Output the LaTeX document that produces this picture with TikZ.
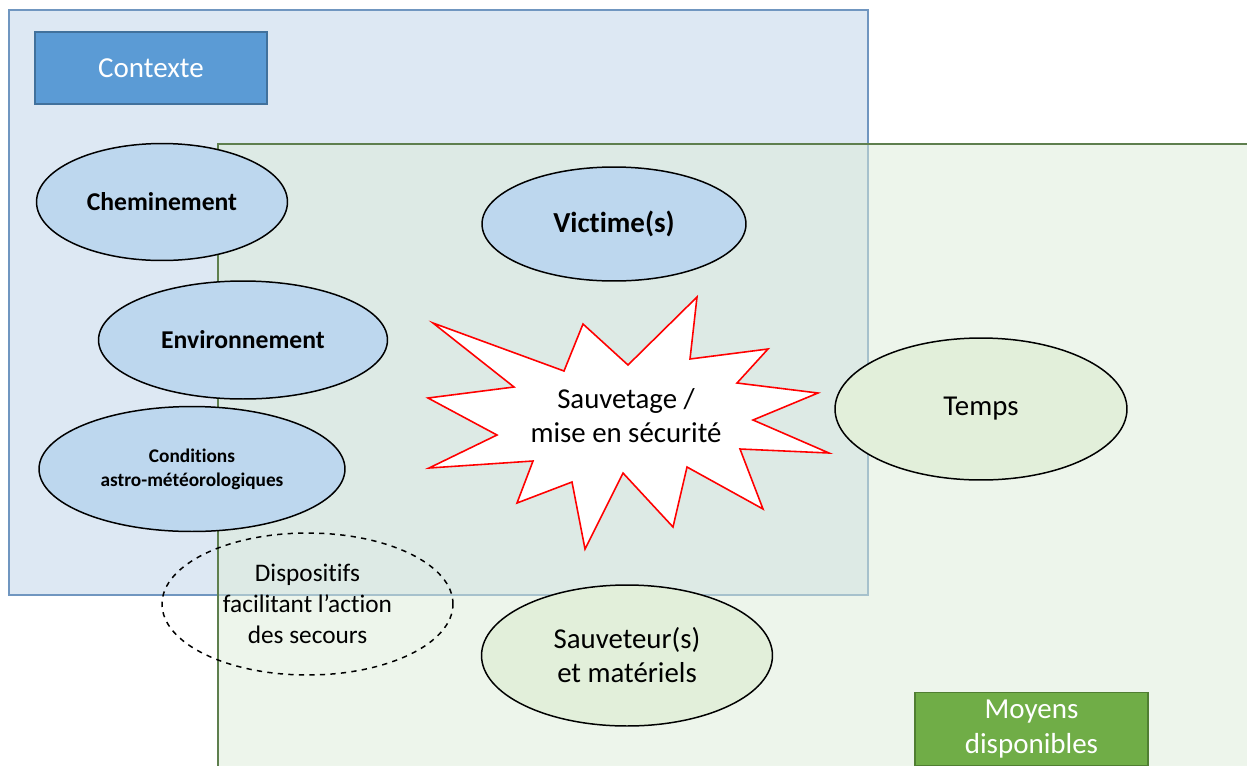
\documentclass[tikz,border=0pt]{standalone}
\usepackage{fontspec}
\setmainfont{Carlito}[Ligatures={NoCommon}]
\usetikzlibrary{shapes.geometric}
\definecolor{ctxfill}{HTML}{DDE8F3}
\definecolor{ctxline}{HTML}{7096C0}
\definecolor{moyfill}{HTML}{DDEDD9}
\definecolor{moyline}{HTML}{5E7F4E}
\definecolor{ovalblue}{HTML}{BDD7EE}
\definecolor{ovalgreen}{HTML}{E2EFDA}
\definecolor{hdrblue}{HTML}{5B9BD5}
\definecolor{hdrblueline}{HTML}{41719C}
\definecolor{hdrgreen}{HTML}{70AD47}
\definecolor{hdrgreenline}{HTML}{507E32}
\begin{document}
\begin{tikzpicture}[x=0.02cm,y=-0.02cm,
  oval/.style={ellipse, draw=black, line width=0.85pt, inner sep=0pt, align=center},
  blueoval/.style={oval, fill=ovalblue},
  greenoval/.style={oval, fill=ovalgreen},
  hdr/.style={rectangle, inner sep=0pt, line width=0.85pt, text=white, align=center},
  bigtxt/.style={font=\fontsize{16.4}{19.3}\selectfont},
  medbold/.style={font=\fontsize{14.6}{17}\selectfont\bfseries},
]
\useasboundingbox (0,0) rectangle (1247,765);
\clip (0,0) rectangle (1247,765);
\fill[white] (0,0) rectangle (1247,765);
% frames
\draw[fill=ctxfill, draw=ctxline, line width=0.85pt] (9,10) rectangle (868,595);
\fill[moyfill, fill opacity=0.5] (218,144) rectangle (1300,800);
\draw[moyline, line width=1.1pt] (1300,144) -- (218,144) -- (218,800);
% headers
\node[hdr, fill=hdrblue, draw=hdrblueline, minimum width=4.64cm, minimum height=1.44cm,
      font=\fontsize{16.5}{19}\selectfont] (ctx) at (151,68) {Contexte};
\node[hdr, fill=hdrgreen, draw=hdrgreenline, minimum width=4.66cm, minimum height=1.46cm,
      font=\fontsize{16.5}{19.8}\selectfont] (moy) at (1031.5,729) {Moyens\\disponibles};
% ovals
\node[blueoval, medbold, minimum width=5.02cm, minimum height=2.34cm] (chem) at (162,202) {Cheminement};
\node[blueoval, font=\fontsize{16.5}{19}\selectfont\bfseries, minimum width=5.28cm, minimum height=2.28cm] (vict) at (614,224) {Victime(s)};
\node[blueoval, medbold, minimum width=5.78cm, minimum height=2.36cm] (env) at (243,340) {Environnement};
\node[blueoval, font=\fontsize{11}{13.6}\selectfont\bfseries, minimum width=6.12cm, minimum height=2.50cm] (cond) at (192,469) {Conditions\\astro-météorologiques};
\node[greenoval, bigtxt, minimum width=5.84cm, minimum height=2.84cm] (temps) at (981,409) {\raisebox{-2pt}{Temps}};
\node[oval, dashed, font=\fontsize{14.4}{17.6}\selectfont, minimum width=5.82cm, minimum height=2.84cm] (disp) at (307.5,604) {Dispositifs\\facilitant l’action\\des secours};
\node[greenoval, bigtxt, minimum width=5.82cm, minimum height=2.82cm] (sauv) at (627,655.5) {Sauveteur(s)\\et matériels};
% star
\draw[red, fill=white, line width=0.9pt, line join=miter]
  (433,323) -- (564,371) -- (583,324) -- (628,365) -- (697,297) -- (690,359)
  -- (768,349) -- (737,383) -- (818,393) -- (753,420) -- (829,453) -- (740,449)
  -- (763,509) -- (687,467) -- (673,527) -- (623,473) -- (585,549) -- (572,482)
  -- (517,503) -- (533,461) -- (429,468) -- (497,435) -- (428,398) -- (514,387) -- cycle;
\node[bigtxt, align=center, inner sep=0pt] (resc) at (626,416) {Sauvetage /\\mise en sécurité};
\end{tikzpicture}
\end{document}
